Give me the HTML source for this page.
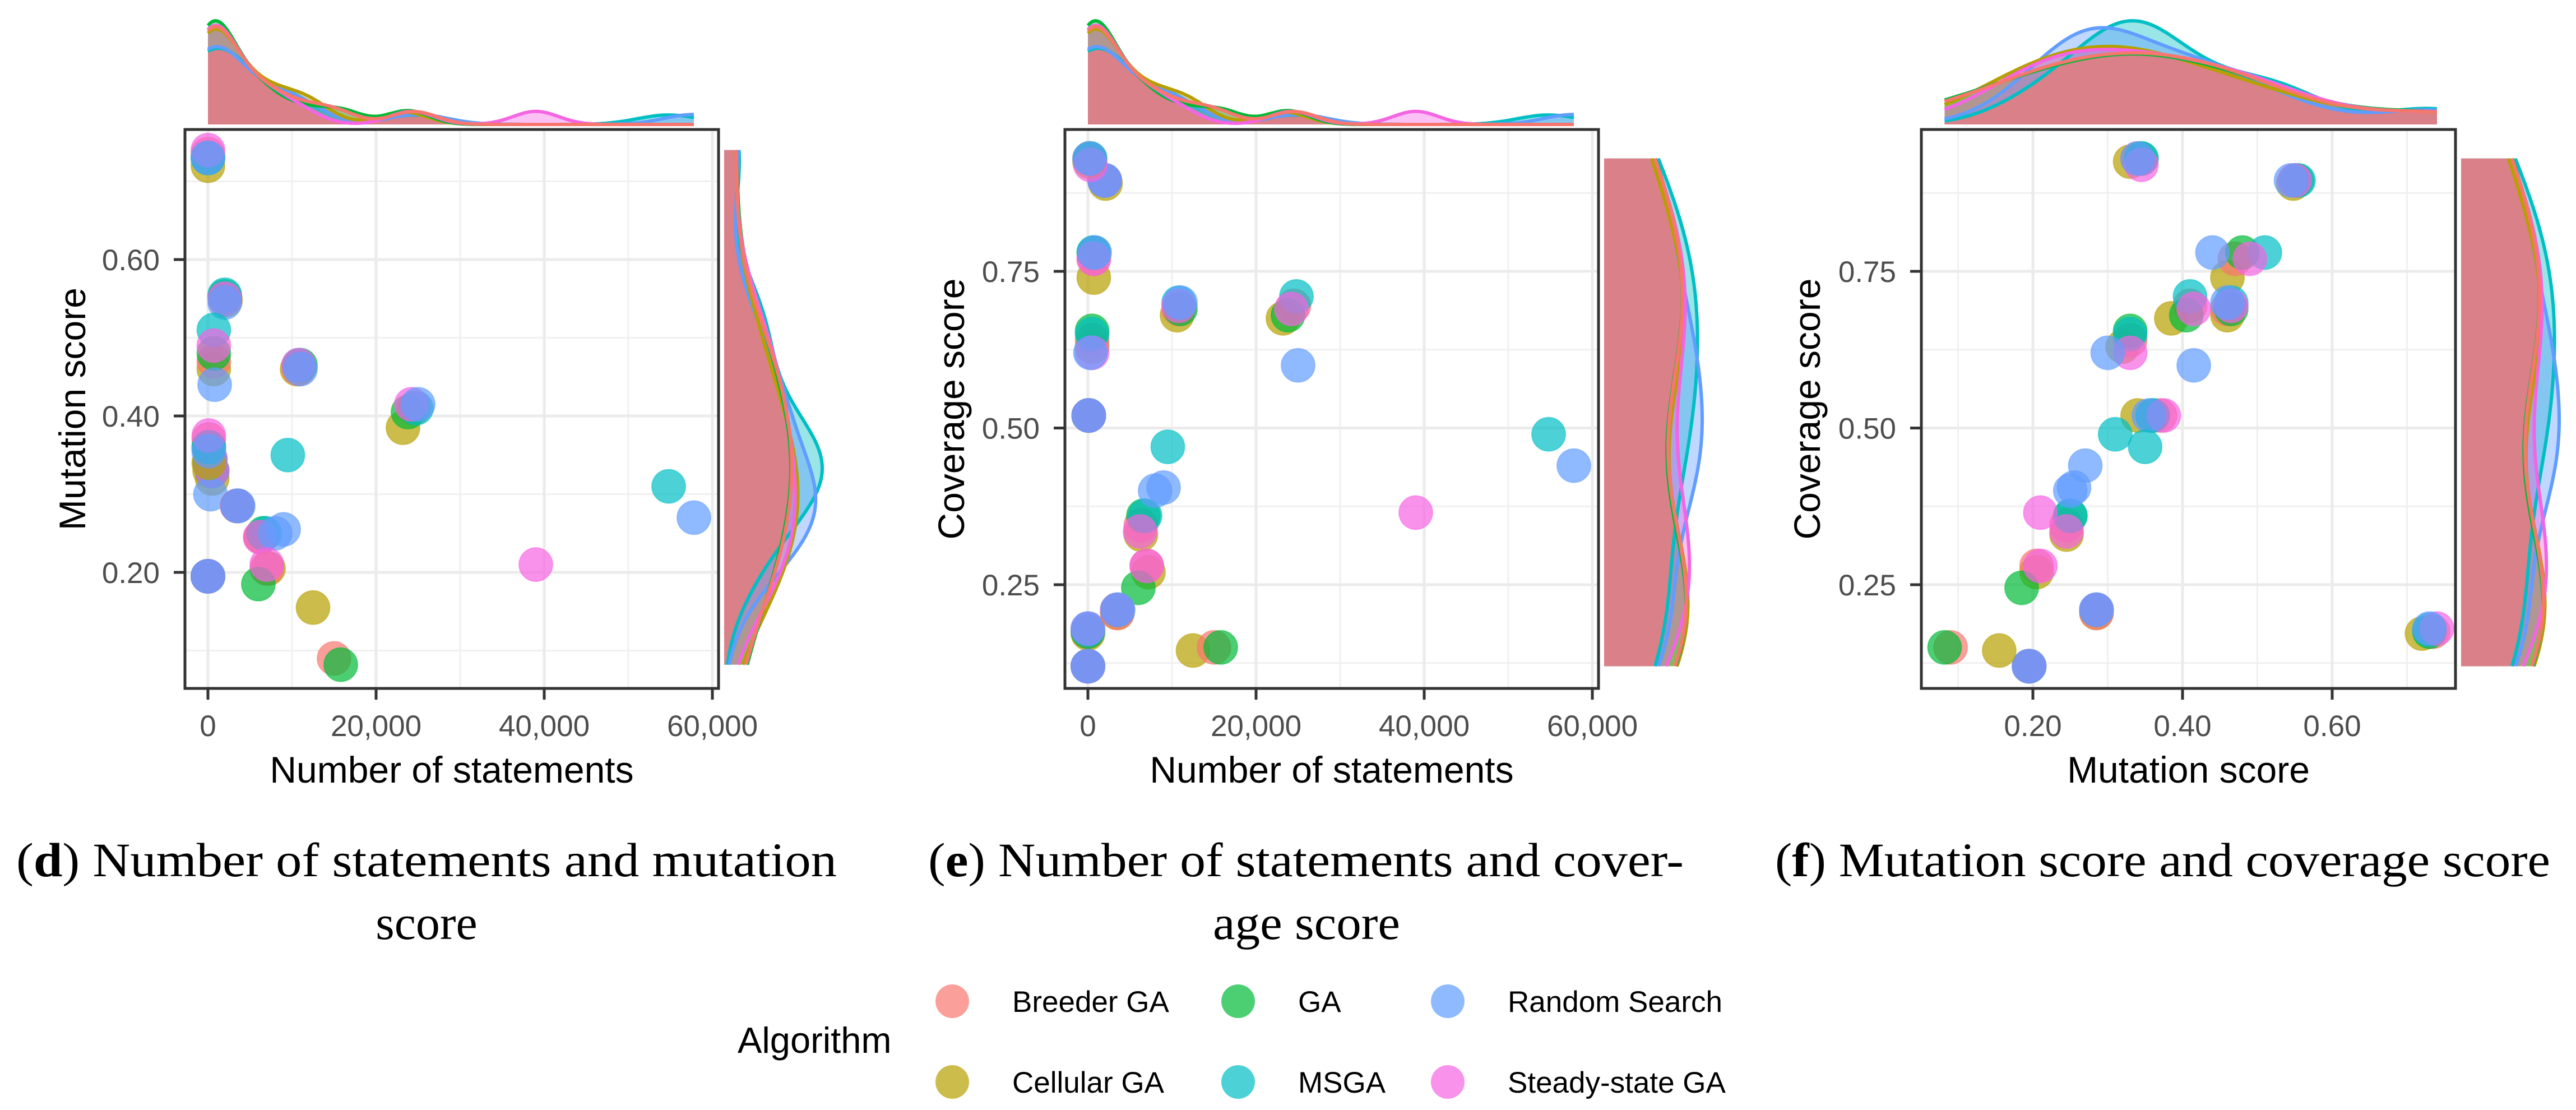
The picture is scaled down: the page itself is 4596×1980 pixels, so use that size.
<!DOCTYPE html>
<html><head><meta charset="utf-8">
<style>
html,body{margin:0;padding:0;background:#fff;}
svg{display:block;}
text{font-family:"Liberation Sans",sans-serif;}
.cap{font-family:"Liberation Serif",serif;}
</style></head>
<body>
<svg id="fig" width="4596" height="1980" viewBox="0 0 4596 1980" xmlns="http://www.w3.org/2000/svg">
  <g>
    <text class="cap" x="29" y="1563" font-size="86" textLength="1464" lengthAdjust="spacingAndGlyphs">(<tspan font-weight="bold">d</tspan>) Number of statements and mutation</text>
    <text class="cap" x="761" y="1675" font-size="86" text-anchor="middle">score</text>
  </g>
  <g>
    <text class="cap" x="1656" y="1563" font-size="86" textLength="1348" lengthAdjust="spacingAndGlyphs">(<tspan font-weight="bold">e</tspan>) Number of statements and cover-</text>
    <text class="cap" x="2331" y="1675" font-size="86" text-anchor="middle" textLength="334" lengthAdjust="spacingAndGlyphs">age score</text>
  </g>
  <g>
    <text class="cap" x="3167" y="1563" font-size="86" textLength="1383" lengthAdjust="spacingAndGlyphs">(<tspan font-weight="bold">f</tspan>) Mutation score and coverage score</text>
  </g>
  <g>
    <text x="1316" y="1878" font-size="65">Algorithm</text>
    <g><circle cx="1699" cy="1786" r="30" fill="#F8766D" fill-opacity="0.7"/><text x="1806" y="1805" font-size="53">Breeder GA</text></g>
    <g><circle cx="2209" cy="1786" r="30" fill="#00BA38" fill-opacity="0.7"/><text x="2316" y="1805" font-size="53">GA</text></g>
    <g><circle cx="2583" cy="1786" r="30" fill="#619CFF" fill-opacity="0.7"/><text x="2690" y="1805" font-size="53">Random Search</text></g>
    <g><circle cx="1699" cy="1930" r="30" fill="#B79F00" fill-opacity="0.7"/><text x="1806" y="1949" font-size="53">Cellular GA</text></g>
    <g><circle cx="2209" cy="1930" r="30" fill="#00BFC4" fill-opacity="0.7"/><text x="2316" y="1949" font-size="53">MSGA</text></g>
    <g><circle cx="2583" cy="1930" r="30" fill="#F564E3" fill-opacity="0.7"/><text x="2690" y="1949" font-size="53">Steady-state GA</text></g>
  </g>
</svg>
<script>
// ---- data: per algorithm, statements / mutation score / coverage score ----
const algorithms = ["Breeder GA","Cellular GA","GA","MSGA","Random Search","Steady-state GA"];
const colors = ["#F8766D","#B79F00","#00BA38","#00BFC4","#619CFF","#F564E3"];
const stmtsBGA = [0,0,2000,200,700,500,100,10800,24500,6300,7000,3500,15000];
const mutBGA   = [.735,.195,.55,.34,.47,.33,.37,.46,.41,.245,.205,.285,.09];
const covBGA   = [.175,.12,.895,.93,.77,.64,.52,.69,.695,.345,.28,.205,.15];
const stmtsCGA = [0,0,2100,200,700,500,100,10600,23200,6300,7200,3500,12500];
const mutCGA   = [.72,.195,.548,.33,.46,.32,.34,.46,.385,.245,.205,.285,.155];
const covCGA   = [.172,.12,.89,.925,.74,.63,.52,.68,.675,.33,.27,.205,.145];
const stmtsGA  = [0,0,2000,250,700,500,100,11000,23800,6600,6000,3500,15800];
const mutGA    = [.73,.195,.553,.345,.48,.33,.36,.465,.405,.25,.185,.285,.082];
const covGA    = [.175,.12,.895,.93,.78,.655,.52,.69,.68,.36,.245,.21,.15];
const stmtsMSGA= [0,0,2000,250,700,500,100,10800,24800,6800,54800,3500,9500];
const mutMSGA  = [.73,.195,.555,.345,.51,.33,.36,.465,.41,.25,.31,.285,.35];
const covMSGA  = [.178,.12,.895,.93,.78,.65,.52,.70,.71,.36,.49,.21,.47];
const stmtsRS  = [0,0,2000,200,800,300,100,11000,25000,8000,57800,3600,9000];
const mutRS    = [.73,.195,.545,.34,.44,.30,.355,.46,.415,.25,.27,.285,.255];
const covRS    = [.18,.12,.895,.93,.78,.62,.52,.70,.60,.40,.44,.21,.405];
const stmtsSSGA= [0,0,2000,300,700,500,100,10800,24200,6200,7000,3500,39000];
const mutSSGA  = [.74,.195,.55,.345,.49,.33,.375,.465,.415,.245,.21,.285,.21];
const covSSGA  = [.18,.12,.895,.92,.77,.62,.52,.695,.69,.335,.28,.21,.365];
const stmtsTicks = [0,20000,40000,60000];
const stmtsTickLabels = ["0","20,000","40,000","60,000"];
const mutTicks = [0.2,0.4,0.6];
const mutTickLabels = ["0.20","0.40","0.60"];
const covTicks = [0.25,0.5,0.75];
const covTickLabels = ["0.25","0.50","0.75"];

const S = [stmtsBGA,stmtsCGA,stmtsGA,stmtsMSGA,stmtsRS,stmtsSSGA];
const M = [mutBGA,mutCGA,mutGA,mutMSGA,mutRS,mutSSGA];
const C = [covBGA,covCGA,covGA,covMSGA,covRS,covSSGA];

const NS="http://www.w3.org/2000/svg";
const svg=document.getElementById('fig');
function el(tag,attrs,parent,txt){const e=document.createElementNS(NS,tag);for(const k in attrs)e.setAttribute(k,attrs[k]);if(txt!==undefined)e.textContent=txt;(parent||svg).appendChild(e);return e;}
function lin(d0,d1,r0,r1){return v=>r0+(v-d0)*(r1-r0)/(d1-d0);}

function kde(vals,lo,hi,n){
  const N=vals.length;const mean=vals.reduce((a,b)=>a+b,0)/N;
  const sd=Math.sqrt(vals.reduce((a,b)=>a+(b-mean)*(b-mean),0)/(N-1));
  const s=[...vals].sort((a,b)=>a-b);const q=p=>{const h=(N-1)*p,i=Math.floor(h);return s[i]+(h-i)*((s[i+1]??s[i])-s[i]);};
  const iqr=q(.75)-q(.25);let lo2=Math.min(sd,iqr/1.34);if(!(lo2>0))lo2=sd;
  const bw=0.9*lo2*Math.pow(N,-0.2);
  const out=[];for(let i=0;i<=n;i++){const x=lo+(hi-lo)*i/n;let d=0;for(const v of vals){const z=(x-v)/bw;d+=Math.exp(-z*z/2);}out.push([x,d/(N*bw*Math.sqrt(2*Math.PI))]);}
  return out;
}

function panel(cfg){
  const g=el('g',{});
  
  
  const {L,R,T,B}=cfg;
  const xs=lin(cfg.xa[0],cfg.xa[2],cfg.xa[1],cfg.xa[3]), ys=lin(cfg.ya[0],cfg.ya[2],cfg.ya[1],cfg.ya[3]);
  el('rect',{x:L,y:T,width:R-L,height:B-T,fill:'#fff'},g);
  const xstep=cfg.xt[1]-cfg.xt[0], ystep=cfg.yt[1]-cfg.yt[0];
  for(let k=-1;k<cfg.xt.length;k++){const m=cfg.xt[0]+(k+0.5)*xstep;const x=xs(m);if(x>L&&x<R)el('line',{x1:x,x2:x,y1:T,y2:B,stroke:'#f0f0f0','stroke-width':3},g);}
  for(let k=-1;k<cfg.yt.length;k++){const m=cfg.yt[0]+(k+0.5)*ystep;const y=ys(m);if(y>T&&y<B)el('line',{x1:L,x2:R,y1:y,y2:y,stroke:'#f0f0f0','stroke-width':3},g);}
  cfg.xt.forEach((t,i)=>{const x=xs(t);
    el('line',{x1:x,x2:x,y1:T,y2:B,stroke:'#ebebeb','stroke-width':5},g);
    el('line',{x1:x,x2:x,y1:B,y2:B+20,stroke:'#333','stroke-width':5},g);
    const tl=el('text',{x:x,y:1313,'font-size':53,fill:'#4d4d4d','text-anchor':'middle'},g,cfg.xl[i]);
    
    
  });
  cfg.yt.forEach((t,i)=>{const y=ys(t);
    el('line',{x1:L,x2:R,y1:y,y2:y,stroke:'#ebebeb','stroke-width':5},g);
    el('line',{x1:L-20,x2:L,y1:y,y2:y,stroke:'#333','stroke-width':5},g);
    const tl=el('text',{x:L-45,y:y+19,'font-size':53,fill:'#4d4d4d','text-anchor':'end'},g,cfg.yl[i]);
    
    
  });
  const order=[1,0,2,3,5,4];
  const n=S[0].length;
  for(let j=0;j<n;j++)for(const a of order){
    const c=el('circle',{cx:xs(cfg.X[a][j]),cy:ys(cfg.Y[a][j]),r:30,fill:colors[a],'fill-opacity':0.7,stroke:colors[a],'stroke-opacity':0.5,'stroke-width':2},g);
    
    
  }
  el('rect',{x:L,y:T,width:R-L,height:B-T,fill:'none',stroke:'#333','stroke-width':5},g);
  const xt=el('text',{x:(L+R)/2,y:1396,'font-size':66,fill:'#000','text-anchor':'middle'},g,cfg.xtitle);
  
  
  const yt=el('text',{x:0,y:0,'font-size':66,fill:'#000','text-anchor':'middle',transform:`translate(${cfg.ylx+24},${(T+B)/2}) rotate(-90)`},g,cfg.ytitle);
  
  
  const allX=[].concat(...cfg.X), allY=[].concat(...cfg.Y);
  const xlo=Math.min(...allX),xhi=Math.max(...allX),ylo=Math.min(...allY),yhi=Math.max(...allY);
  const topD=cfg.X.map(v=>kde(v,xlo,xhi,200));
  const rightD=cfg.Y.map(v=>kde(v,ylo,yhi,200));
  const tmax=Math.max(...topD.map(d=>Math.max(...d.map(p=>p[1]))));
  const rmax=Math.max(...rightD.map(d=>Math.max(...d.map(p=>p[1]))));
  const base=222, H=185, rb=R+10, W=175;
  const tg=el('g',{},g);
  const rg=el('g',{},g);
  const tpath=d=>d.map((p,i)=>(i?'L':'M')+xs(p[0]).toFixed(1)+','+(base-p[1]/tmax*H).toFixed(1)).join('');
  const rpath=d=>d.map((p,i)=>(i?'L':'M')+(rb+p[1]/rmax*W).toFixed(1)+','+ys(p[0]).toFixed(1)).join('');
  topD.forEach((d,a)=>el('path',{d:tpath(d)+`L${xs(xhi)},${base}L${xs(xlo)},${base}Z`,fill:colors[a],'fill-opacity':0.4},tg));
  rightD.forEach((d,a)=>el('path',{d:rpath(d)+`L${rb},${ys(yhi)}L${rb},${ys(ylo)}Z`,fill:colors[a],'fill-opacity':0.4},rg));
  const tmin=topD[0].map((p,i)=>[p[0],Math.min(...topD.map(d=>d[i][1]))]);
  const rmin=rightD[0].map((p,i)=>[p[0],Math.min(...rightD.map(d=>d[i][1]))]);
  el('path',{d:tpath(tmin)+`L${xs(xhi)},${base}L${xs(xlo)},${base}Z`,fill:'#D98088'},tg);
  el('path',{d:rpath(rmin)+`L${rb},${ys(yhi)}L${rb},${ys(ylo)}Z`,fill:'#D98088'},rg);
  [3,4,1,2,5,0].forEach(a=>{
    el('path',{d:tpath(topD[a]),fill:'none',stroke:colors[a],'stroke-width':6},tg);
    el('path',{d:rpath(rightD[a]),fill:'none',stroke:colors[a],'stroke-width':6},rg);
  });
}

panel({name:'panel-d-statements-vs-mutation',L:330,R:1282,T:231,B:1228,
  xa:[0,371,20000,671],ya:[0.2,1021,0.6,463],X:S,Y:M,xt:stmtsTicks,xl:stmtsTickLabels,yt:mutTicks,yl:mutTickLabels,
  xtitle:'Number of statements',ytitle:'Mutation score',ylx:128});
panel({name:'panel-e-statements-vs-coverage',L:1900,R:2852,T:231,B:1228,
  xa:[0,1941,20000,2241],ya:[0.25,1043,0.75,484],X:S,Y:C,xt:stmtsTicks,xl:stmtsTickLabels,yt:covTicks,yl:covTickLabels,
  xtitle:'Number of statements',ytitle:'Coverage score',ylx:1696});
panel({name:'panel-f-mutation-vs-coverage',L:3428,R:4381,T:231,B:1228,
  xa:[0.2,3627,0.4,3894],ya:[0.25,1043,0.75,484],X:M,Y:C,xt:mutTicks,xl:mutTickLabels,yt:covTicks,yl:covTickLabels,
  xtitle:'Mutation score',ytitle:'Coverage score',ylx:3223});
</script>
</body></html>
